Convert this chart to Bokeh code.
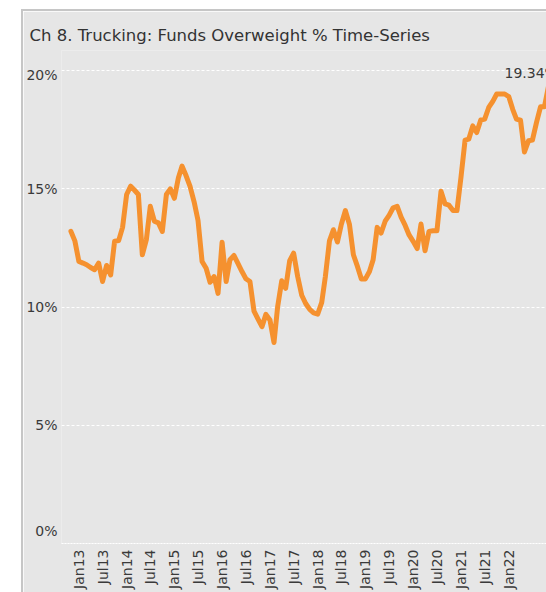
import math
import pandas as pd
from bokeh.plotting import figure
from bokeh.models import Range1d, FixedTicker, Label, ColumnDataSource
from bokeh.embed import file_html
from bokeh.resources import INLINE

# ---- data ----
title_text = "Ch 8. Trucking:  Funds Overweight % Time-Series"
first_month = "2012-11-01"
overweight_pct = [
    13.2, 12.8, 11.93, 11.86, 11.79, 11.67, 11.58, 11.86, 11.08, 11.76,
    11.36, 12.78, 12.81, 13.37, 14.76, 15.11, 14.95, 14.76, 12.21, 12.85,
    14.26, 13.63, 13.56, 13.2, 14.76, 15.0, 14.6, 15.47, 15.96, 15.55,
    15.1, 14.45, 13.66, 11.93, 11.64, 11.05, 11.29, 10.58, 12.74, 11.08,
    12.0, 12.18, 11.85, 11.5, 11.2, 11.08, 9.83, 9.5, 9.17, 9.69,
    9.45, 8.5, 10.02, 11.11, 10.79, 11.96, 12.28, 11.29, 10.5, 10.15,
    9.9, 9.75, 9.7, 10.2, 11.3, 12.8, 13.27, 12.75, 13.5, 14.08,
    13.49, 12.21, 11.72, 11.19, 11.19, 11.5, 12.0, 13.37, 13.13, 13.63,
    13.88, 14.2, 14.26, 13.8, 13.45, 13.05, 12.78, 12.47, 13.51, 12.38,
    13.2, 13.23, 13.23, 14.9, 14.36, 14.31, 14.08, 14.08, 15.5, 17.06,
    17.1, 17.66, 17.38, 17.91, 17.95, 18.44, 18.7, 19.01, 19.01, 19.01,
    18.9, 18.35, 17.95, 17.9, 16.56, 17.03, 17.06, 17.8, 18.47, 18.47,
    19.34,
]
last_value_label = "19.34%"

x_tick_dates = [
    "2013-01-01", "2013-07-01", "2014-01-01", "2014-07-01", "2015-01-01",
    "2015-07-01", "2016-01-01", "2016-07-01", "2017-01-01", "2017-07-01",
    "2018-01-01", "2018-07-01", "2019-01-01", "2019-07-01", "2020-01-01",
    "2020-07-01", "2021-01-01", "2021-07-01", "2022-01-01",
]
x_tick_labels = [
    "Jan13", "Jul13", "Jan14", "Jul14", "Jan15", "Jul15", "Jan16", "Jul16",
    "Jan17", "Jul17", "Jan18", "Jul18", "Jan19", "Jul19", "Jan20", "Jul20",
    "Jan21", "Jul21", "Jan22",
]
y_ticks = [0, 5, 10, 15, 20]
y_tick_labels = ["0%", "5%", "10%", "15%", "20%"]

# ---- build ----
dates = pd.date_range(first_month, periods=len(overweight_pct), freq="MS")
src = ColumnDataSource(data=dict(date=dates, value=overweight_pct))

FONT = "DejaVu Sans"
TXT = "#3a3a3a"
BG = "#e6e6e6"
Y_END = 20.85
FRAME_H = 491.0
PX_PER_UNIT = FRAME_H / Y_END
# label nudges in screen px (positive = up), as drawn in the reference
label_nudge_px = {0: 12, 20: -4}

p = figure(
    width=525, height=583,
    x_axis_type="datetime",
    x_range=Range1d(pd.Timestamp("2012-08-21"), pd.Timestamp("2022-11-01")),
    y_range=Range1d(0, Y_END),
    output_backend="svg", toolbar_location=None,
    min_border_left=36, min_border_right=0, min_border_top=39, min_border_bottom=51,
    background_fill_color=BG, border_fill_color=BG, outline_line_color=None,
    title=title_text,
)
p.margin = (9, 0, 0, 21)
p.styles = {"border-left": "2px solid #c6c6c6", "border-top": "2px solid #c6c6c6"}

p.title.text_font = FONT
p.title.text_font_size = "16.5px"
p.title.text_font_style = "normal"
p.title.text_color = "#333333"
p.title.align = "left"
p.title.offset = -32
p.title.standoff = 12

tick_ms = [int(pd.Timestamp(d).value // 10**6) for d in x_tick_dates]
p.xaxis.ticker = FixedTicker(ticks=tick_ms)
p.xaxis.major_label_overrides = {t: l for t, l in zip(tick_ms, x_tick_labels)}
p.xaxis.major_label_orientation = math.pi / 2
p.xaxis.major_label_standoff = 6
p.xaxis.major_tick_out = 0
p.xaxis.major_tick_in = 0
p.xaxis.major_tick_line_color = None
p.xaxis.minor_tick_line_color = None
p.xaxis.axis_line_color = "white"
p.xaxis.axis_line_dash = "2 1"
p.xaxis.major_label_text_font = FONT
p.xaxis.major_label_text_font_size = "14px"
p.xaxis.major_label_text_color = TXT

label_pos = [t + label_nudge_px.get(t, 0) / PX_PER_UNIT for t in y_ticks]
p.yaxis.ticker = FixedTicker(ticks=label_pos)
p.yaxis.major_label_overrides = {pos: l for pos, l in zip(label_pos, y_tick_labels)}
p.yaxis.major_label_standoff = 4
p.yaxis.major_tick_out = 0
p.yaxis.major_tick_in = 0
p.yaxis.axis_line_color = None
p.yaxis.major_tick_line_color = None
p.yaxis.minor_tick_line_color = None
p.yaxis.major_label_text_font = FONT
p.yaxis.major_label_text_font_size = "14px"
p.yaxis.major_label_text_color = TXT

p.xgrid.grid_line_color = None
p.ygrid.ticker = FixedTicker(ticks=[t for t in y_ticks if t > 0])
p.ygrid.grid_line_color = "white"
p.ygrid.grid_line_dash = "3 2"
p.ygrid.grid_line_width = 1

p.line(x="date", y="value", source=src, line_color="#F5912F", line_width=5,
       line_join="round", line_cap="round")

p.add_layout(Label(x=dates[-1].to_pydatetime(), y=overweight_pct[-1], text=last_value_label,
                   text_align="left", text_baseline="bottom", x_offset=-44, y_offset=5,
                   text_font=FONT, text_font_size="14px", text_color=TXT))

open("out.html", "w").write(file_html(p, INLINE))
